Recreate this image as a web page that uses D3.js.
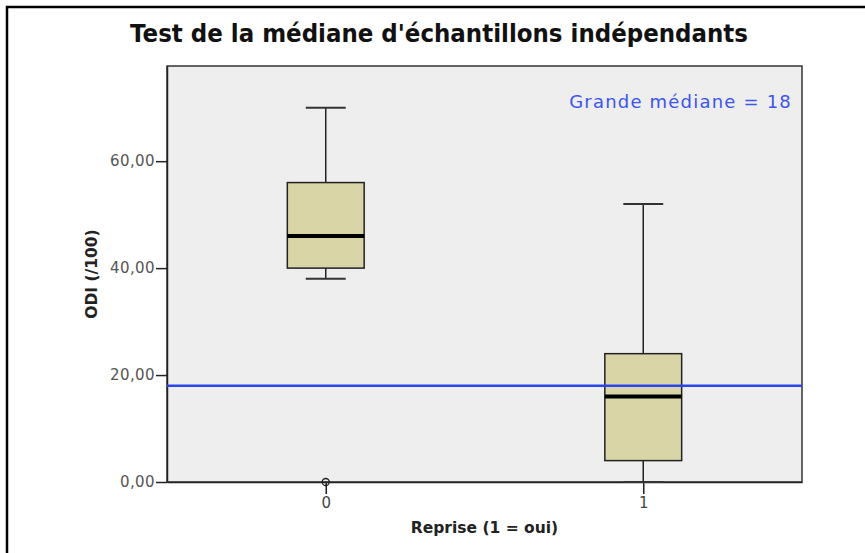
<!DOCTYPE html>
<html>
<head>
<meta charset="utf-8">
<script src="https://cdn.jsdelivr.net/npm/d3@7"></script>
<style>
  body { margin: 0; background: #fff; }
  text { font-family: "DejaVu Sans", sans-serif; }
</style>
</head>
<body>
<svg width="865" height="553"></svg>
<script>
// groups on the x axis
var groups = ["0", "1"];
// five-number summaries per group (whisker low, Q1, median, Q3, whisker high)
var whiskerLow = [38, 0];
var q1 = [40, 4];
var medians = [46, 16];
var q3 = [56, 24];
var whiskerHigh = [70, 52];
// outliers: [group, value]
var outliers = [["0", 0]];
var grandMedian = 18;
var yTicks = [0, 20, 40, 60];

var svg = d3.select("svg"),
    width = +svg.attr("width"),
    height = +svg.attr("height");

var margin = {top: 66, right: 63, bottom: 71, left: 167};
var plotW = width - margin.left - margin.right,
    plotH = height - margin.top - margin.bottom;

// outer frame (right and bottom edges fall outside the picture)
svg.append("rect")
  .attr("x", 7).attr("y", 7)
  .attr("width", width + 10).attr("height", height + 10)
  .attr("fill", "none").attr("stroke", "#000").attr("stroke-width", 2.5);

svg.append("text")
  .attr("x", 130).attr("y", 42)
  .attr("textLength", 618)
  .attr("lengthAdjust", "spacingAndGlyphs")
  .style("font-weight", "bold")
  .style("font-size", "25px")
  .attr("fill", "#111")
  .text("Test de la médiane d'échantillons indépendants");

var g = svg.append("g").attr("transform", "translate(" + margin.left + "," + margin.top + ")");

var x = d3.scalePoint().domain(groups).range([0, plotW]).padding(0.5);
var y = d3.scaleLinear().domain([0, 77.8]).range([plotH, 0]);

g.append("rect")
  .attr("width", plotW).attr("height", plotH)
  .attr("fill", "#eeeeee").attr("stroke", "#333").attr("stroke-width", 1.5);

var fmt = function(d) { return d3.format(".2f")(d).replace(".", ","); };

var yAxis = g.append("g")
  .call(d3.axisLeft(y).tickValues(yTicks).tickFormat(fmt).tickSize(11).tickSizeOuter(0).tickPadding(1));
yAxis.select(".domain").attr("stroke", "#222").attr("stroke-width", 1.5);
yAxis.selectAll(".tick line").attr("stroke", "#222").attr("stroke-width", 1.5);
yAxis.selectAll(".tick text").attr("fill", "#555").style("font-size", "15px")
  .style("letter-spacing", "0.4px")
  .style("font-family", "'DejaVu Sans', sans-serif");

var xAxis = g.append("g").attr("transform", "translate(0," + plotH + ")")
  .call(d3.axisBottom(x).tickSize(12).tickSizeOuter(0).tickPadding(3));
xAxis.select(".domain").attr("stroke", "#222").attr("stroke-width", 1.5);
xAxis.selectAll(".tick line").attr("stroke", "#222").attr("stroke-width", 1.5);
xAxis.selectAll(".tick text").attr("fill", "#444").style("font-size", "15px")
  .style("font-family", "'DejaVu Sans', sans-serif");

var boxW = plotW * 0.121,
    capW = boxW * 0.52;

groups.forEach(function(grp, i) {
  var cx = x(grp);
  var b = g.append("g");
  // whiskers
  b.append("line")
    .attr("x1", cx).attr("x2", cx)
    .attr("y1", y(whiskerHigh[i])).attr("y2", y(q3[i]))
    .attr("stroke", "#222").attr("stroke-width", 1.5);
  b.append("line")
    .attr("x1", cx).attr("x2", cx)
    .attr("y1", y(q1[i])).attr("y2", y(whiskerLow[i]))
    .attr("stroke", "#222").attr("stroke-width", 1.5);
  b.append("line")
    .attr("x1", cx - capW / 2).attr("x2", cx + capW / 2)
    .attr("y1", y(whiskerHigh[i])).attr("y2", y(whiskerHigh[i]))
    .attr("stroke", "#333").attr("stroke-width", 2);
  b.append("line")
    .attr("x1", cx - capW / 2).attr("x2", cx + capW / 2)
    .attr("y1", y(whiskerLow[i])).attr("y2", y(whiskerLow[i]))
    .attr("stroke", "#333").attr("stroke-width", 2);
  // box
  b.append("rect")
    .attr("x", cx - boxW / 2).attr("width", boxW)
    .attr("y", y(q3[i])).attr("height", y(q1[i]) - y(q3[i]))
    .attr("fill", "#d9d5a7").attr("stroke", "#222").attr("stroke-width", 1.5);
  b.append("line")
    .attr("x1", cx - boxW / 2).attr("x2", cx + boxW / 2)
    .attr("y1", y(medians[i])).attr("y2", y(medians[i]))
    .attr("stroke", "#000").attr("stroke-width", 4);
});

g.selectAll(".outlier")
  .data(outliers)
  .enter().append("circle")
  .attr("class", "outlier")
  .attr("cx", function(d) { return x(d[0]); })
  .attr("cy", function(d) { return y(d[1]); })
  .attr("r", 3.5)
  .attr("fill", "none").attr("stroke", "#222").attr("stroke-width", 1.3);

// grand median reference line
g.append("line")
  .attr("x1", 0).attr("x2", plotW)
  .attr("y1", y(grandMedian)).attr("y2", y(grandMedian))
  .attr("stroke", "#2a45f0").attr("stroke-width", 2.5);

g.append("text")
  .attr("x", plotW - 10).attr("y", 42)
  .attr("text-anchor", "end")
  .attr("fill", "#3b55ee")
  .style("font-size", "18px")
  .style("letter-spacing", "1.2px")
  .text("Grande médiane = " + grandMedian);

svg.append("text")
  .attr("x", margin.left + plotW / 2).attr("y", 533)
  .attr("text-anchor", "middle")
  .style("font-weight", "bold").style("font-size", "15.5px")
  .attr("fill", "#222")
  .text("Reprise (1 = oui)");

svg.append("text")
  .attr("transform", "translate(97," + (margin.top + plotH / 2) + ") rotate(-90)")
  .attr("text-anchor", "middle")
  .style("font-weight", "bold").style("font-size", "15.5px")
  .attr("fill", "#222")
  .text("ODI (/100)");
</script>
</body>
</html>
